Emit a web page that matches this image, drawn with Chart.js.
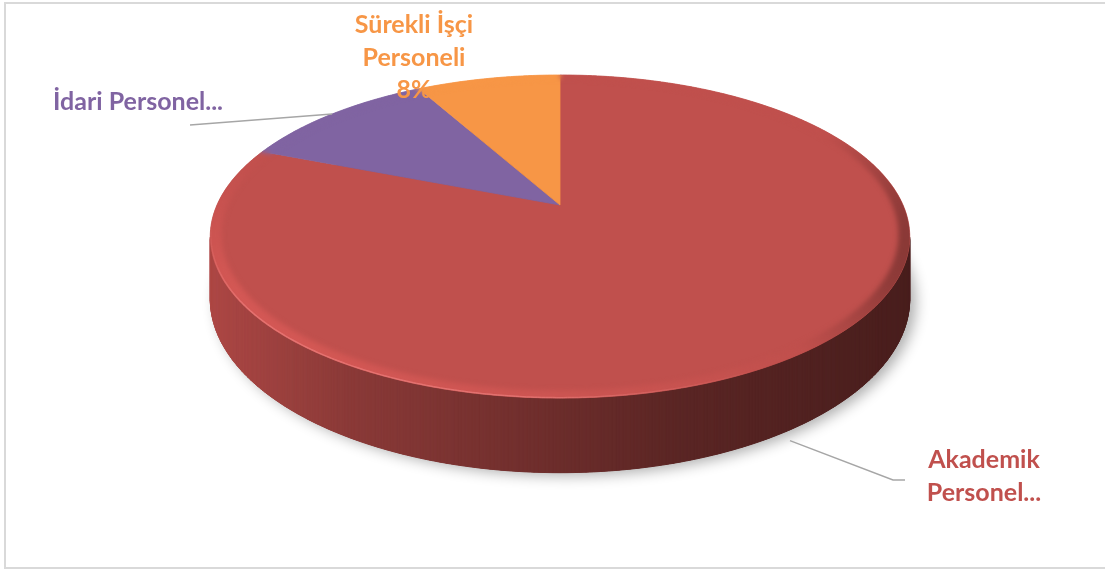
<!DOCTYPE html>
<html>
<head>
<meta charset="utf-8">
<script src="https://cdn.jsdelivr.net/npm/chart.js@4.4.0/dist/chart.umd.min.js"></script>
<style>
  html, body { margin: 0; padding: 0; background: #fff; }
  #wrap { position: relative; width: 1105px; height: 570px; overflow: hidden; }
  #frame { position: absolute; left: 4px; top: 2px; width: 1120px; height: 567px;
           border: 2px solid #d9d9d9; box-sizing: border-box; }
  canvas { position: absolute; left: 0; top: 0; }
</style>
</head>
<body>
<div id="wrap">
  <div id="frame"></div>
  <canvas id="pie" width="1105" height="570"></canvas>
</div>
<script>
// data
const categories = ['Akademik Personel', 'İdari Personel', 'Sürekli İşçi Personeli'];
const shares = [81, 11, 8];
const sliceColors = ['#C0504D', '#8064A2', '#F79646'];
// text shown by each data label (Excel cut the long ones off)
const labelText = [['Akademik', 'Personel...'], ['İdari Personel...'], ['Sürekli İşçi', 'Personeli', shares[2] + '%']];

// 3d look: perspective depth, radii of the top face, thickness
const D = 5.12, KX = 343, KY = 155.4, DEPTH = 60;

// where the labels sit (layout only)
const labelLayout = [
  { x: 984, y: 468, align: 'center', leader: [[893, 480], [905, 480]], z: 1.15 },
  { x: 53, y: 110, align: 'left', leader: [[190, 125]], z: 0 },
  { x: 414, y: 33, align: 'center', leader: null }
];

function shade(hex, f) {
  const n = parseInt(hex.slice(1), 16);
  const cl = v => Math.max(0, Math.min(255, Math.round(v)));
  return 'rgb(' + cl(((n >> 16) & 255) * f) + ',' + cl(((n >> 8) & 255) * f) + ',' + cl((n & 255) * f) + ')';
}

function sliceAt(arcs, a) {
  for (let i = 0; i < arcs.length; i++) {
    let x = a;
    while (x < arcs[i].startAngle) x += 2 * Math.PI;
    while (x >= arcs[i].startAngle + 2 * Math.PI) x -= 2 * Math.PI;
    if (x < arcs[i].endAngle) return i;
  }
  return 0;
}

// side darkness from left to right
function sideF(w) {
  const st = [[0, 0.9], [0.2, 0.72], [0.39, 0.62], [0.67, 0.47], [1, 0.38]];
  w = Math.max(0, Math.min(1, w));
  for (let i = 1; i < st.length; i++) {
    if (w <= st[i][0]) {
      const t = (w - st[i - 1][0]) / (st[i][0] - st[i - 1][0]);
      return st[i - 1][1] + t * (st[i][1] - st[i - 1][1]);
    }
  }
  return st[st.length - 1][1];
}

function makeProj(cx, cy) {
  return (u, v, z) => {
    const s = D / (D + v);
    return [cx + KX * u * s, cy - KY * v * s + DEPTH * z * s];
  };
}

function quad(c, pts) {
  c.beginPath();
  c.moveTo(pts[0][0], pts[0][1]);
  for (let i = 1; i < pts.length; i++) c.lineTo(pts[i][0], pts[i][1]);
  c.closePath();
}

const pie3d = {
  id: 'pie3d',
  beforeDatasetDraw(chart, args) {
    const c = chart.ctx;
    const arcs = args.meta.data;
    const colors = chart.data.datasets[0].backgroundColor;
    const proj = makeProj(arcs[0].x, arcs[0].y);
    const P = (a, z, r) => proj((r || 1) * Math.cos(a), -(r || 1) * Math.sin(a), z);
    const N = 720, step = 2 * Math.PI / N, a0 = -Math.PI / 2;

    // outline of the whole top face
    const topPts = [], botPts = [];
    for (let k = 0; k <= N; k++) { topPts.push(P(a0 + k * step, 0)); botPts.push(P(a0 + k * step, 1)); }
    const left = Math.min(...topPts.map(p => p[0])), right = Math.max(...topPts.map(p => p[0]));

    // soft shadow under the pie
    c.save();
    c.shadowColor = 'rgba(0,0,0,0.32)';
    c.shadowBlur = 14;
    c.shadowOffsetX = 6;
    c.shadowOffsetY = 3;
    c.fillStyle = '#6a2a2a';
    quad(c, botPts);
    c.fill();
    c.restore();

    // side wall
    c.save();
    c.lineWidth = 1;
    for (let k = 0; k < N; k++) {
      const s0 = a0 + k * step, s1 = s0 + step;
      const p0 = P(s0, 0), p1 = P(s1, 0), q1 = P(s1, 1), q0 = P(s0, 1);
      const cross = (p1[0] - p0[0]) * (q0[1] - p0[1]) - (p1[1] - p0[1]) * (q0[0] - p0[0]);
      if (cross >= 0) continue;
      const i = sliceAt(arcs, s0 + step / 2);
      const col = shade(colors[i], sideF(((p0[0] + p1[0]) / 2 - left) / (right - left)));
      c.fillStyle = col; c.strokeStyle = col;
      quad(c, [p0, p1, q1, q0]);
      c.fill(); c.stroke();
    }
    c.restore();

    // top face, one wedge per slice
    c.save();
    c.lineWidth = 0.8;
    arcs.forEach((arc, i) => {
      const pts = [proj(0, 0, 0)];
      const n = Math.max(2, Math.ceil((arc.endAngle - arc.startAngle) / step));
      for (let k = 0; k <= n; k++) pts.push(P(arc.startAngle + (arc.endAngle - arc.startAngle) * k / n, 0));
      c.fillStyle = colors[i]; c.strokeStyle = colors[i];
      quad(c, pts);
      c.fill(); c.stroke();
    });
    c.restore();

    // bevel round the rim: a little light at front-left, dark at right
    const off = document.createElement('canvas');
    off.width = chart.width; off.height = chart.height;
    const o = off.getContext('2d');
    o.lineWidth = 1;
    for (let k = 0; k < N; k++) {
      const s0 = a0 + k * step, s1 = s0 + step, am = s0 + step / 2;
      const u = Math.cos(am), v = -Math.sin(am);
      const dot = -0.8 * u - 0.6 * v;
      const w = Math.max(0, Math.min(1, 0.5 - v));
      const f = 1 + w * (dot > 0 ? 0.1 * dot : 0.6 * dot);
      const col = shade(colors[sliceAt(arcs, am)], f);
      o.fillStyle = col; o.strokeStyle = col;
      quad(o, [P(s0, 0, 0.97), P(s1, 0, 0.97), P(s1, 0, 1.04), P(s0, 0, 1.04)]);
      o.fill(); o.stroke();
    }
    c.save();
    quad(c, topPts);
    c.clip();
    c.filter = 'blur(2.5px)';
    c.drawImage(off, 0, 0);
    c.restore();

    // thin light line along the front rim
    c.save();
    c.lineWidth = 1.5;
    for (let k = 0; k < N; k++) {
      const s0 = a0 + k * step, s1 = s0 + step, am = s0 + step / 2;
      const u = Math.cos(am), v = -Math.sin(am);
      if (v > -0.1) continue;
      const a = Math.min(1, (-0.1 - v) * 2) * Math.max(0, 1 - Math.max(0, u + 0.1) * 1.6);
      if (a <= 0) continue;
      c.strokeStyle = 'rgba(255,150,150,' + (0.45 * a).toFixed(3) + ')';
      const p0 = P(s0, 0, 0.998), p1 = P(s1, 0, 0.998);
      c.beginPath(); c.moveTo(p0[0], p0[1]); c.lineTo(p1[0], p1[1]); c.stroke();
    }
    c.restore();

    return false;
  }
};

const outsideLabels = {
  id: 'outsideLabels',
  afterDraw(chart) {
    const c = chart.ctx;
    const arcs = chart.getDatasetMeta(0).data;
    const colors = chart.data.datasets[0].backgroundColor;
    const proj = makeProj(arcs[0].x, arcs[0].y);
    c.save();
    arcs.forEach((arc, i) => {
      const lay = labelLayout[i];
      if (lay.leader) {
        const mid = (arc.startAngle + arc.endAngle) / 2;
        const start = proj(Math.cos(mid), -Math.sin(mid), lay.z);
        c.strokeStyle = '#a6a6a6';
        c.lineWidth = 1.5;
        c.beginPath();
        c.moveTo(start[0], start[1]);
        lay.leader.forEach(p => c.lineTo(p[0], p[1]));
        c.stroke();
      }
      c.fillStyle = colors[i];
      c.font = 'bold 25px Lato, "Open Sans", sans-serif';
      c.textAlign = lay.align;
      c.textBaseline = 'alphabetic';
      labelText[i].forEach((line, j) => c.fillText(line, lay.x, lay.y + j * 32.5));
    });
    c.restore();
  }
};

new Chart(document.getElementById('pie').getContext('2d'), {
  type: 'pie',
  data: {
    labels: categories,
    datasets: [{ data: shares, backgroundColor: sliceColors, borderWidth: 0 }]
  },
  options: {
    responsive: false,
    animation: false,
    events: [],
    layout: { padding: { left: 15, right: 0, top: 0, bottom: 160 } },
    plugins: { legend: { display: false }, tooltip: { enabled: false } }
  },
  plugins: [pie3d, outsideLabels]
});
</script>
</body>
</html>
